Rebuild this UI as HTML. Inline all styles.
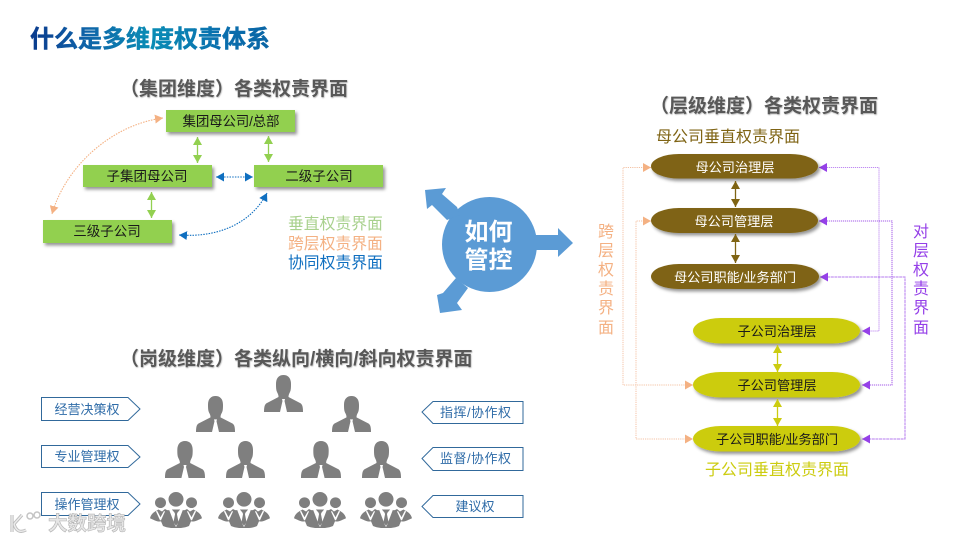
<!DOCTYPE html>
<html><head><meta charset="utf-8"><style>
html,body{margin:0;padding:0;background:#fff}
svg{display:block}
text{font-family:"Liberation Sans","Noto Sans CJK SC",sans-serif}
</style></head><body>
<svg width="960" height="540" viewBox="0 0 960 540" xmlns="http://www.w3.org/2000/svg">
<defs>
<linearGradient id="tg" gradientUnits="userSpaceOnUse" x1="30" y1="0" x2="270" y2="0">
<stop offset="0" stop-color="#0a3a8c"/><stop offset=".2" stop-color="#0f5ea6"/><stop offset=".5" stop-color="#0a8db5"/><stop offset=".8" stop-color="#0a6fae"/><stop offset="1" stop-color="#0a65a5"/></linearGradient>
<filter id="sh" x="-10%" y="-30%" width="125%" height="170%"><feDropShadow dx="2" dy="2.500" stdDeviation="1.500" flood-color="#000" flood-opacity=".42"/></filter>
<filter id="ts" x="-5%" y="-20%" width="110%" height="150%"><feDropShadow dx="0.600" dy="0.800" stdDeviation="0.600" flood-color="#000" flood-opacity=".3"/></filter>
<marker id="g" markerWidth="9" markerHeight="9" refX="8" refY="4.500" orient="auto-start-reverse" markerUnits="userSpaceOnUse"><path d="M0 0L8 4.500L0 9Z" fill="#92d050"/></marker>
<marker id="o" markerWidth="9" markerHeight="9" refX="8" refY="4.500" orient="auto-start-reverse" markerUnits="userSpaceOnUse"><path d="M0 0L8 4.500L0 9Z" fill="#f4b183"/></marker>
<marker id="b" markerWidth="9" markerHeight="9" refX="8" refY="4.500" orient="auto-start-reverse" markerUnits="userSpaceOnUse"><path d="M0 0L8 4.500L0 9Z" fill="#0f6fc0"/></marker>
<marker id="p" markerWidth="9" markerHeight="9" refX="8" refY="4.500" orient="auto-start-reverse" markerUnits="userSpaceOnUse"><path d="M0 0L8 4.500L0 9Z" fill="#9540e8"/></marker>
<marker id="br" markerWidth="9" markerHeight="9" refX="8" refY="4.500" orient="auto-start-reverse" markerUnits="userSpaceOnUse"><path d="M0 0L8 4.500L0 9Z" fill="#7f6414"/></marker>
<marker id="y" markerWidth="9" markerHeight="9" refX="8" refY="4.500" orient="auto-start-reverse" markerUnits="userSpaceOnUse"><path d="M0 0L8 4.500L0 9Z" fill="#cccc10"/></marker>
<symbol id="person" viewBox="0 0 39 37" preserveAspectRatio="none">
<path d="M12 9C12 3 15 0 19.500 0S27 3 27 9C27 12 27 15 26 17C25 19 24.500 20 24.500 22L36 28C38 29 39 31 39 37H0C0 31 1 29 3 28L14.500 22C14.500 20 14 19 13 17C12 15 12 12 12 9Z" fill="#7f7f7f"/>
<path d="M18 24H21L20.500 26L23 37H16L18.500 26Z" fill="#fff"/>
</symbol>
<symbol id="group" viewBox="0 0 52 37" preserveAspectRatio="none">
<circle cx="10.500" cy="11" r="5.500" fill="#7f7f7f"/><circle cx="41.500" cy="11" r="5.500" fill="#7f7f7f"/><circle cx="26" cy="7.500" r="7.500" fill="#7f7f7f"/>
<path d="M0 27C1 22 5 20 8.500 18L12 20L15 17.500C17 19 19 19 20 18L32 18C33 19 35 19 37 17.500L40 20L43.500 18C47 20 51 22 52 27C46 30 43 31 41 30L39 35C33 38 19 38 13 35L11 30C9 31 6 30 0 27Z" fill="#7f7f7f"/>
<path d="M21 17L26 23L31 17L33 18L26.500 35.500L25.500 35.500L19 18Z" fill="#fff"/>
<path d="M24.500 20H27.500L27 23L28.500 31L26 35L23.500 31L25 23Z" fill="#7f7f7f"/>
<path d="M7 19L10.500 26L14 19.500L15 20L11 29H10L6 20Z" fill="#fff"/><path d="M38 19.500L41.500 26L45 19L46 20L42 29H41L37 20Z" fill="#fff"/>
</symbol>
</defs>
<rect width="960" height="540" fill="#fff"/>

<text x="30" y="47" font-size="24" font-weight="700" fill="url(#tg)" stroke="url(#tg)" stroke-width=".5">什么是多维度权责体系</text>

<text x="120" y="95" font-size="19" font-weight="700" fill="#595959" filter="url(#ts)">（集团维度）各类权责界面</text>
<text x="650" y="112" font-size="19" font-weight="700" fill="#595959" filter="url(#ts)">（层级维度）各类权责界面</text>
<text x="120" y="365" font-size="19" font-weight="700" fill="#595959" filter="url(#ts)">（岗级维度）各类纵向/横向/斜向权责界面</text>

<!-- group dimension -->
<g filter="url(#sh)" fill="#92d050"><rect x="166" y="110" width="129" height="22"/><rect x="83" y="165" width="129" height="22"/><rect x="254" y="165" width="129" height="22"/><rect x="43" y="220" width="129" height="23"/></g>
<g font-size="13.500" fill="#1a1a1a" text-anchor="middle"><text x="231" y="126" textLength="97">集团母公司/总部</text><text x="147" y="181">子集团母公司</text><text x="319" y="181">二级子公司</text><text x="107" y="236">三级子公司</text></g>
<g stroke="#92d050" stroke-width="1.300" fill="none" marker-start="url(#g)" marker-end="url(#g)"><path d="M197.500 137V163"/><path d="M268.500 136V162"/><path d="M151.500 192V218"/></g>
<path d="M163 118C110 125 65 168 52 214" fill="none" stroke="#f4b183" stroke-width="1.100" stroke-dasharray="1.500 1.200" marker-start="url(#o)" marker-end="url(#o)"/>
<path d="M216 177H253" fill="none" stroke="#0f6fc0" stroke-width="1.100" stroke-dasharray="1.500 1.200" marker-start="url(#b)" marker-end="url(#b)"/>
<path d="M179 235C220 238 252 222 267 193" fill="none" stroke="#0f6fc0" stroke-width="1.100" stroke-dasharray="1.500 1.200" marker-start="url(#b)" marker-end="url(#b)"/>
<g font-size="15.800"><text x="288" y="229" fill="#a9d18e">垂直权责界面</text><text x="288" y="249" fill="#f4b183">跨层权责界面</text><text x="288" y="268" fill="#0f6fc0">协同权责界面</text></g>

<!-- center -->
<g fill="#5b9bd5">
<circle cx="489.500" cy="244.500" r="47.500"/>
<path d="M530 235H558V228L573 243L558 257V250H530Z"/>
<path d="M457 207L442 194L446 188L425 190L427 209L432 205L447 220L460 215Z"/>
<path d="M456 278L443 293L437 295L440 313L462 310L457 303L468 288Z"/>
</g>
<g font-size="24" font-weight="700" fill="#fff" text-anchor="middle"><text x="488.500" y="240">如何</text><text x="488.500" y="268">管控</text></g>

<!-- right diagram connectors -->
<g fill="none" stroke-width="1">
<path d="M651 167.500H623V385H693" stroke="#f4c2a4" stroke-dasharray="1.200 1" marker-start="url(#o)" marker-end="url(#o)"/>
<path d="M651 221H636V439H693" stroke="#f4c2a4" stroke-dasharray="1.200 1" marker-start="url(#o)" marker-end="url(#o)"/>
<path d="M819 167.500H879V331H862" stroke="#c08cf2" stroke-dasharray="1.200 .8" marker-start="url(#p)" marker-end="url(#p)"/>
<path d="M819 221H892V385H862" stroke="#a45cea" stroke-dasharray="1.200 .8" marker-start="url(#p)" marker-end="url(#p)"/>
<path d="M820 277H905V439H862" stroke="#b57bef" stroke-dasharray="3 .6" marker-start="url(#p)" marker-end="url(#p)"/>
</g>

<g filter="url(#sh)">
<g fill="#7f6414"><rect x="651" y="154" width="167" height="24.500" rx="28" ry="12.250"/><rect x="651" y="208" width="167" height="25" rx="28" ry="12.500"/><rect x="651" y="264" width="168" height="25" rx="28" ry="12.500"/></g>
<g fill="#cccc10"><rect x="693" y="318" width="167" height="25.500" rx="28" ry="12.750"/><rect x="693" y="372" width="167" height="25.500" rx="28" ry="12.750"/><rect x="693" y="426" width="167" height="25.500" rx="28" ry="12.750"/></g>
</g>
<g font-size="13.200" text-anchor="middle" fill="#fff"><text x="735" y="172">母公司治理层</text><text x="734" y="226">母公司管理层</text><text x="735" y="282" textLength="122">母公司职能/业务部门</text></g>
<g font-size="13.200" text-anchor="middle" fill="#1a1a1a"><text x="777" y="336">子公司治理层</text><text x="777" y="390">子公司管理层</text><text x="777" y="444" textLength="122">子公司职能/业务部门</text></g>
<g fill="none" stroke-width="1.300"><path d="M735.500 181V207" stroke="#7f6414" marker-start="url(#br)" marker-end="url(#br)"/><path d="M735.500 234V263" stroke="#7f6414" marker-start="url(#br)" marker-end="url(#br)"/><path d="M777.500 345V372" stroke="#cccc10" marker-start="url(#y)" marker-end="url(#y)"/><path d="M777.500 399V426" stroke="#cccc10" marker-start="url(#y)" marker-end="url(#y)"/></g>
<text x="656" y="142" font-size="16" fill="#7f6414">母公司垂直权责界面</text>
<text x="705" y="475" font-size="16" fill="#cccc10">子公司垂直权责界面</text>
<g font-size="16" fill="#f4b183" text-anchor="middle"><text x="606" y="237">跨</text><text x="606" y="256">层</text><text x="606" y="275">权</text><text x="606" y="294">责</text><text x="606" y="313">界</text><text x="606" y="333">面</text></g>
<g font-size="16" fill="#9540e8" text-anchor="middle"><text x="921" y="237">对</text><text x="921" y="256">层</text><text x="921" y="275">权</text><text x="921" y="294">责</text><text x="921" y="313">界</text><text x="921" y="333">面</text></g>

<!-- people -->
<g>
<use href="#person" x="264" y="375" width="39" height="37"/>
<use href="#person" x="196" y="396" width="39" height="36"/>
<use href="#person" x="332" y="396" width="39" height="36"/>
<use href="#person" x="165" y="441" width="40" height="37"/>
<use href="#person" x="226" y="441" width="39" height="37"/>
<use href="#person" x="301" y="441" width="40" height="37"/>
<use href="#person" x="362" y="441" width="39" height="37"/>
<use href="#group" x="150" y="492" width="52" height="36"/>
<use href="#group" x="218" y="492" width="52" height="36"/>
<use href="#group" x="294" y="492" width="52" height="36"/>
<use href="#group" x="360" y="492" width="52" height="36"/>
</g>
<g fill="#fff" stroke="#31699b" stroke-width="1">
<path d="M41.500 397.500H128L140 409L128 420.500H41.500Z"/><path d="M41.500 445.500H128L140 457L128 467.500H41.500Z"/><path d="M41.500 492.500H128L140 504L128 515.500H41.500Z"/>
<path d="M523 401.500H433L422 412L433 423.500H523Z"/><path d="M523 447.500H433L422 458.500L433 470.500H523Z"/><path d="M523 495.500H433L422 506.500L433 517.500H523Z"/>
</g>
<g fill="#2f6ca8" font-size="13" text-anchor="middle"><text x="87" y="414">经营决策权</text><text x="87" y="461">专业管理权</text><text x="87" y="509">操作管理权</text><text x="475.500" y="417" textLength="71">指挥/协作权</text><text x="475.500" y="463" textLength="71">监督/协作权</text><text x="475" y="511">建议权</text></g>

<!-- watermark -->
<g>
<path d="M12 515V532M14 524L22 515M14 524C16 531 20 533 26 530" fill="none" stroke="#bdbdbd" stroke-width="3.200"/>
<path d="M12 515V532M14 524L22 515M14 524C16 531 20 533 26 530" fill="none" stroke="#ececec" stroke-width="1.400"/>
<circle cx="30" cy="516" r="3" fill="none" stroke="#c4c4c4" stroke-width="1.500"/><circle cx="37" cy="515" r="3" fill="none" stroke="#c4c4c4" stroke-width="1.500"/>
<text x="48" y="530" font-size="19.500" font-weight="700" fill="#e6e6e6" stroke="#b4b4b4" stroke-width=".6">大数跨境</text>
</g>
</svg>
</body></html>
